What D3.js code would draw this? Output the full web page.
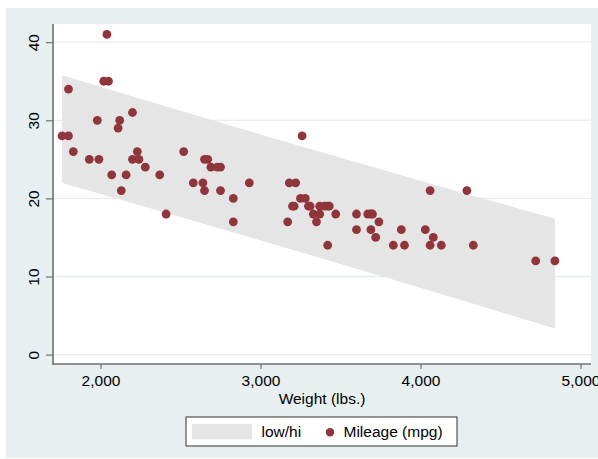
<!DOCTYPE html>
<html><head><meta charset="utf-8">
<script src="https://cdn.jsdelivr.net/npm/d3@7"></script>
<style>html,body{margin:0;padding:0;background:#fff;} svg{display:block;}</style>
</head><body>
<script>
// Auto data: weight (lbs.) and mileage (mpg)
const weight = [2930,3350,2640,3250,4080,3670,2230,3280,3880,3400,4330,3900,4290,2110,3690,3180,3220,2750,3430,2120,3600,3600,3740,1800,2650,4840,4720,3830,2580,4060,3720,3370,4130,2830,4060,3310,3300,3690,3370,2730,4030,3260,1800,2200,2520,3330,3700,3470,3210,3200,3420,2690,2830,2070,2650,2370,2020,2280,2750,2130,2240,1760,1980,3420,1830,2050,2410,2200,2670,2160,2040,1930,1990,3170];
const mpg = [22,17,22,20,15,18,26,20,16,19,14,14,21,29,16,22,22,24,19,30,18,16,17,28,21,12,12,14,22,14,15,18,14,20,21,19,19,18,19,24,16,28,34,25,26,18,18,18,19,19,19,24,17,23,25,23,35,24,21,21,25,28,30,14,26,35,18,31,25,23,41,25,25,17];
// low/hi band
const bandWeight = [1760,2300,2800,3300,3800,4300,4840];
const bandLow  = [21.96,18.80,15.83,12.82,9.78,6.69,3.33];
const bandHigh = [35.77,32.45,29.41,26.40,23.44,20.51,17.39];
const xTicks = [2000,3000,4000,5000];
const yTicks = [0,10,20,30,40];
const legendLabels = ["low/hi","Mileage (mpg)"];
const xTitle = "Weight (lbs.)";

const W=598,H=459;
const font = "'Liberation Sans', Arial, Helvetica, sans-serif";
const bg = "#e8eff1", grid = "#e6eef0", bandColor = "#e5e5e5", ptColor = "#90353b", axisColor = "#707070";
const svg = d3.select("body").append("svg").attr("width",W).attr("height",H);

svg.append("rect").attr("x",6).attr("y",8).attr("width",592).attr("height",450).attr("fill",bg);
const plot = {l:53, r:591, t:24, b:364};
svg.append("rect").attr("x",plot.l).attr("y",plot.t).attr("width",plot.r-plot.l).attr("height",plot.b-plot.t).attr("fill","#fff");

const x = d3.scaleLinear().domain([2000,5000]).range([100.5,580.5]);
const y = d3.scaleLinear().domain([0,40]).range([354.6,42.2]);

// gridlines
svg.append("g").selectAll("line").data(yTicks).join("line")
  .attr("x1",plot.l).attr("x2",plot.r).attr("y1",d=>y(d)).attr("y2",d=>y(d))
  .attr("stroke",grid).attr("stroke-width",1.3);

// band
const band = bandWeight.map((w,i)=>({w,lo:bandLow[i],hi:bandHigh[i]}));
svg.append("path").datum(band)
  .attr("d", d3.area().x(d=>x(d.w)).y0(d=>y(d.lo)).y1(d=>y(d.hi)))
  .attr("fill",bandColor);

// points
svg.append("g").selectAll("circle").data(weight.map((w,i)=>({w,m:mpg[i]}))).join("circle")
  .attr("cx",d=>x(d.w)).attr("cy",d=>y(d.m)).attr("r",4.4).attr("fill",ptColor);

// axes
const xAxis = d3.axisBottom(x).tickValues(xTicks).tickFormat(d3.format(",")).tickSize(5).tickSizeOuter(0);
const gx = svg.append("g").attr("transform",`translate(0,${plot.b})`).call(xAxis);
gx.select(".domain").remove();
gx.selectAll(".tick line").attr("stroke",axisColor).attr("stroke-width",1.2);
gx.selectAll(".tick text").attr("font-family",font).attr("font-size","15.5px").attr("fill","#000").attr("dy","0").attr("y",22);
svg.append("line").attr("x1",plot.l).attr("x2",plot.r).attr("y1",plot.b).attr("y2",plot.b).attr("stroke",axisColor).attr("stroke-width",1.6);

const yAxis = d3.axisLeft(y).tickValues(yTicks).tickSize(7).tickSizeOuter(0);
const gy = svg.append("g").attr("transform",`translate(${plot.l},0)`).call(yAxis);
gy.select(".domain").remove();
gy.selectAll(".tick line").attr("stroke",axisColor).attr("stroke-width",1.2);
gy.selectAll(".tick text").attr("font-family",font).attr("font-size","15.5px").attr("fill","#000")
  .attr("x",0).attr("dy",0).attr("text-anchor","middle").attr("transform","translate(-14.5,0) rotate(-90)");
svg.append("line").attr("x1",plot.l).attr("x2",plot.l).attr("y1",plot.t).attr("y2",plot.b+1).attr("stroke",axisColor).attr("stroke-width",1.6);

// x title
svg.append("text").attr("x",(plot.l+plot.r)/2).attr("y",404).attr("text-anchor","middle")
  .attr("font-family",font).attr("font-size","15.5px").text(xTitle);

// legend
const lg = svg.append("g");
lg.append("rect").attr("x",186).attr("y",417).attr("width",271).attr("height",29).attr("fill","#fff").attr("stroke","#333").attr("stroke-width",1);
lg.append("rect").attr("x",192).attr("y",424).attr("width",60).attr("height",15.5).attr("fill",bandColor);
lg.append("text").attr("x",261.5).attr("y",437).attr("font-family",font).attr("font-size","15.5px").text(legendLabels[0]);
lg.append("circle").attr("cx",330).attr("cy",432.3).attr("r",4.2).attr("fill",ptColor);
lg.append("text").attr("x",343.5).attr("y",437).attr("font-family",font).attr("font-size","15.5px").text(legendLabels[1]);
</script>
</body></html>
